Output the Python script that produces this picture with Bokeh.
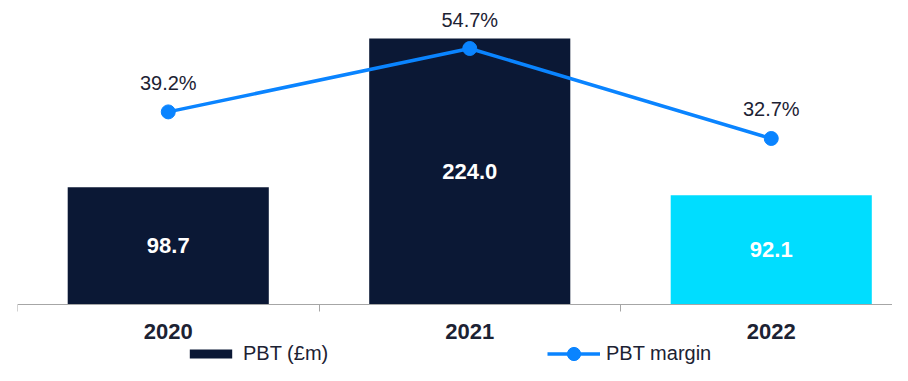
from bokeh.plotting import figure
from bokeh.models import (ColumnDataSource, Range1d, FixedTicker,
                          Legend, LegendItem)
from bokeh.core.properties import value
from bokeh.embed import file_html
from bokeh.resources import INLINE

# ---- data ----
years = ["2020", "2021", "2022"]
pbt = [98.7, 224.0, 92.1]
pbt_labels = ["98.7", "224.0", "92.1"]
margin = [39.2, 54.7, 32.7]
margin_labels = ["39.2%", "54.7%", "32.7%"]
bar_colors = ["#0B1835", "#0B1835", "#00DDFF"]

BLUE = "#0A84FF"
TEXT = "#1C2233"
FONT = "Liberation Sans"

xs = list(range(len(years)))

bars = ColumnDataSource(dict(x=xs, top=pbt, lab=pbt_labels, color=bar_colors,
                             mid=[v / 2 for v in pbt]))
line = ColumnDataSource(dict(x=xs, y=margin, lab=margin_labels))

H = 365
AXIS_PX = 304          # pixel row of the category axis
PX_PER_GBP = 1.1875
PX_PER_PCT = 4.09
m_at_axis = -7.89

p = figure(width=892, height=H, output_backend="svg", toolbar_location=None,
           x_range=Range1d(-0.5, -0.5 + 875 / 301.5),
           y_range=Range1d(-(H - AXIS_PX) / PX_PER_GBP, AXIS_PX / PX_PER_GBP),
           min_border_left=17, min_border_right=0, min_border_top=0,
           min_border_bottom=0, outline_line_color=None,
           background_fill_color="white", border_fill_color="white")
p.extra_y_ranges = {"m": Range1d(m_at_axis - (H - AXIS_PX) / PX_PER_PCT,
                                 m_at_axis + AXIS_PX / PX_PER_PCT)}

p.xgrid.visible = False
p.ygrid.visible = False
p.yaxis.visible = False

vb = p.vbar(x="x", top="top", width=0.667, bottom=0, source=bars,
            fill_color="color", line_color=None)
p.text(x="x", y="mid", text="lab", source=bars, text_color="white",
       text_font=value(FONT), text_font_size="22px", text_font_style="bold",
       text_align="center", text_baseline="middle")

ln = p.line(x="x", y="y", source=line, y_range_name="m", line_color=BLUE,
            line_width=3.5)
sc = p.scatter(x="x", y="y", source=line, y_range_name="m", size=14,
               fill_color=BLUE, line_color=BLUE)
p.text(x="x", y="y", text="lab", source=line, y_range_name="m",
       text_color=TEXT, text_font=value(FONT), text_font_size="20px",
       text_align="center", text_baseline="middle", y_offset=-29)

ax = p.xaxis[0]
ax.fixed_location = 0
ax.ticker = FixedTicker(ticks=xs, minor_ticks=[-0.5, 0.5, 1.5, 2.5])
ax.major_label_overrides = {i: y for i, y in zip(xs, years)}
ax.major_tick_line_color = None
ax.major_tick_out = 0
ax.major_tick_in = 0
ax.minor_tick_out = 7
ax.minor_tick_in = 0
ax.minor_tick_line_color = "#A6A6A6"
ax.axis_line_color = "#A6A6A6"
ax.axis_line_width = 1
ax.major_label_standoff = 12
ax.major_label_text_font = FONT
ax.major_label_text_font_size = "22px"
ax.major_label_text_font_style = "bold"
ax.major_label_text_color = TEXT

common = dict(orientation="horizontal", label_standoff=6, padding=0, margin=0,
              border_line_color=None, background_fill_alpha=0,
              label_text_font=FONT, label_text_font_size="20px",
              label_text_color=TEXT)
leg_bar = Legend(items=[LegendItem(label="PBT (£m)", renderers=[vb], index=0)],
                 location=(167, 0), glyph_width=53, glyph_height=11, **common)
leg_line = Legend(items=[LegendItem(label="PBT margin", renderers=[ln, sc])],
                  location=(530, -5), glyph_width=53, glyph_height=33, **common)
p.add_layout(leg_bar, "center")
p.add_layout(leg_line, "center")

open("out.html", "w").write(file_html(p, INLINE))
